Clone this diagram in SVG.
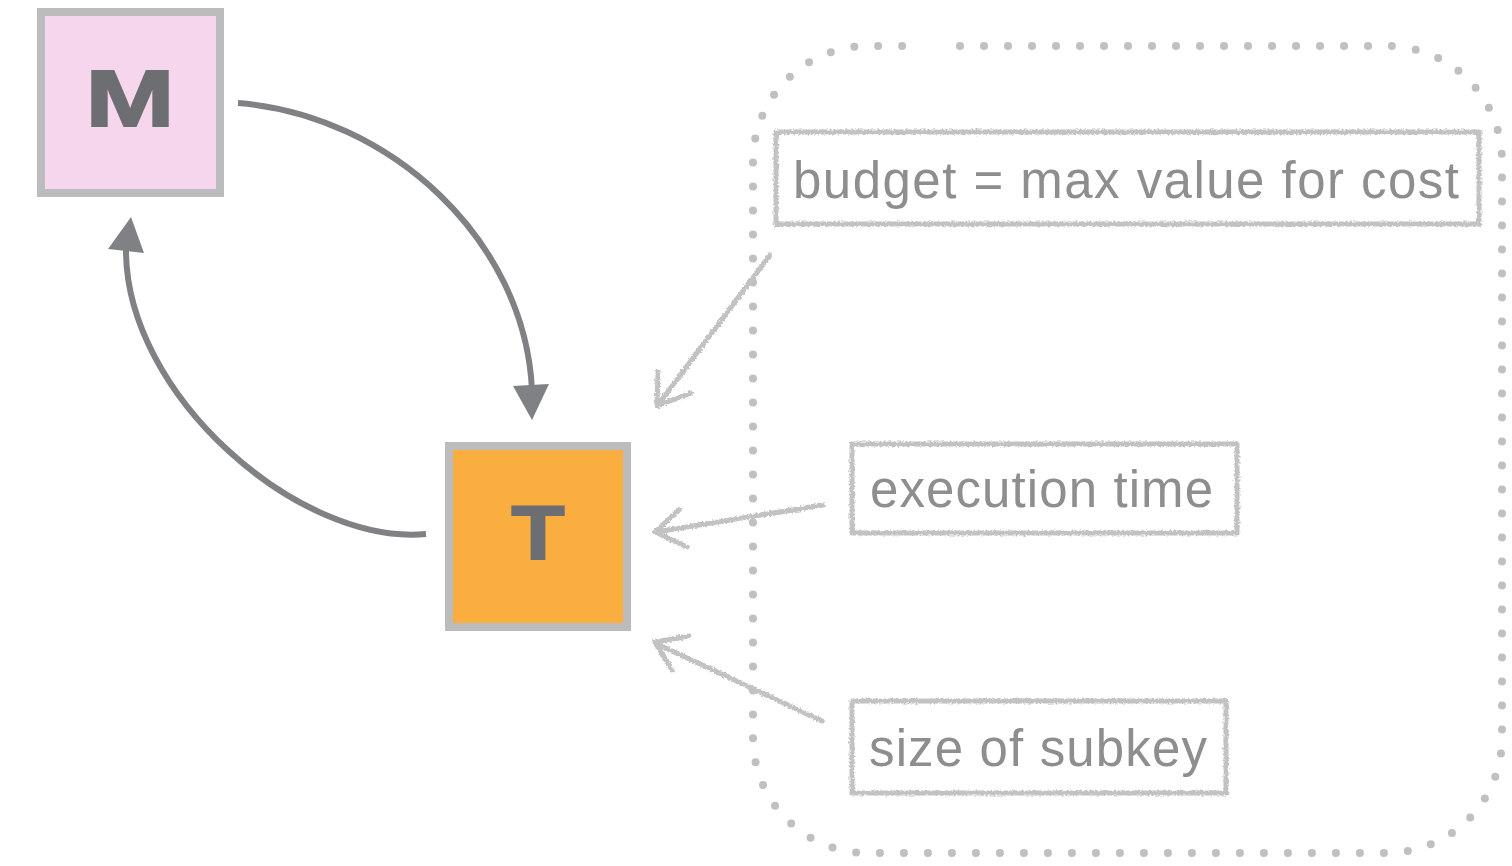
<svg xmlns="http://www.w3.org/2000/svg" width="1512" height="866" viewBox="0 0 1512 866">
  <defs>
    <!-- pencil-like roughness for the annotation strokes -->
    <filter id="rough" x="-5%" y="-5%" width="110%" height="110%">
      <feTurbulence type="fractalNoise" baseFrequency="0.5" numOctaves="2" seed="3" result="noise"/>
      <feDisplacementMap in="SourceGraphic" in2="noise" scale="4.5" xChannelSelector="R" yChannelSelector="G"/>
    </filter>
  </defs>
  <style>
    .node-border { stroke: #bcbcbe; stroke-width: 8; }
    .node-label { font-family: "Liberation Sans", Arial, sans-serif; font-weight: bold; fill: #6d6e71; stroke: #6d6e71; stroke-width: 2; text-anchor: middle; }
    .flow { fill: none; stroke: #808184; stroke-width: 6; }
    .flow-head { fill: #808184; }
    .group-outline { fill: none; stroke: #c0c0c2; stroke-width: 8; stroke-linecap: round; stroke-dasharray: 0 24; }
    .sketch { fill: none; stroke: #c2c2c2; stroke-width: 5; stroke-linecap: round; stroke-linejoin: round; filter: url(#rough); }
    .note { font-family: "Liberation Sans", Arial, sans-serif; font-size: 51px; fill: #8e8e8e; }
  </style>

  <rect width="1512" height="866" fill="#ffffff"/>

  <!-- dotted grouping outline, opened with a small gap on the top edge -->
  <path class="group-outline" d="M960,46 H1387 A115,115 0 0 1 1502,161 V738 A115,115 0 0 1 1387,853 H868 A115,115 0 0 1 753,738 V161 A115,115 0 0 1 868,46 H926"/>

  <g id="node-M">
    <rect class="node-border" x="41" y="12" width="179" height="181" fill="#f5d6ed"/>
    <text class="node-label" x="130" y="126" font-size="79" textLength="89" lengthAdjust="spacingAndGlyphs">M</text>
  </g>

  <g id="node-T">
    <rect class="node-border" x="449" y="446" width="178" height="181" fill="#fbae40"/>
    <text class="node-label" x="538" y="559" font-size="76" textLength="53" lengthAdjust="spacingAndGlyphs">T</text>
  </g>

  <g id="connectors">
    <!-- M to T -->
    <path class="flow" d="M238,103 C390,115 525,240 532,390"/>
    <polygon class="flow-head" points="513,386 549,384 532,420"/>
    <!-- T to M -->
    <path class="flow" d="M426,534 C300,546 125,395 126,249"/>
    <polygon class="flow-head" points="108,249 144,253 131,217"/>
  </g>

  <g id="note-budget">
    <rect class="sketch" x="776" y="132" width="703" height="92"/>
    <text class="note" x="793" y="198" textLength="666" lengthAdjust="spacing">budget = max value for cost</text>
    <path class="sketch" d="M770,255 L658,405 M658,372 L657,406 L691,393"/>
  </g>
  <g id="note-time">
    <rect class="sketch" x="852" y="444" width="385" height="89"/>
    <text class="note" x="870" y="507" textLength="343" lengthAdjust="spacing">execution time</text>
    <path class="sketch" d="M823,505 L656,532 M679,510 L655,532 L687,547"/>
  </g>
  <g id="note-subkey">
    <rect class="sketch" x="852" y="701" width="374" height="92"/>
    <text class="note" x="869" y="766" textLength="338" lengthAdjust="spacing">size of subkey</text>
    <path class="sketch" d="M822,721 L657,644 M689,636 L655,642 L672,670"/>
  </g>
</svg>
